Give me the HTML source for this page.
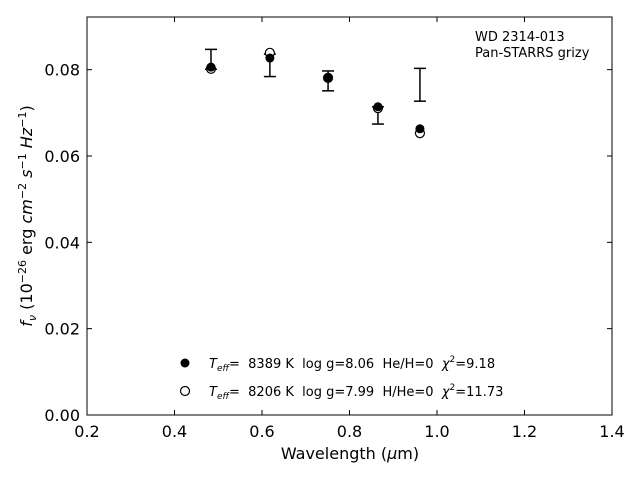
<!DOCTYPE html>
<html><head><meta charset="utf-8"><style>
body{margin:0;background:#fff}
svg{display:block;font-family:"DejaVu Sans","Liberation Sans",sans-serif}
</style></head><body>
<svg id="chart" width="640" height="480">
<rect x="87" y="17" width="525" height="398" fill="none" stroke="#000" stroke-width="1"/>
<g id="ticks"></g>
<g id="marks"></g>
<text x="350" y="459" font-size="16" text-anchor="middle">Wavelength (<tspan font-style="italic">μ</tspan>m)</text>
<text transform="translate(32,216) rotate(-90)" font-size="16" text-anchor="middle"><tspan font-style="italic">f<tspan font-size="11" dy="4">ν</tspan></tspan><tspan dy="-4"> (10</tspan><tspan font-size="11" dy="-6">−26</tspan><tspan dy="6"> erg </tspan><tspan font-style="italic">cm</tspan><tspan font-size="11" dy="-6">−2</tspan><tspan dy="6" font-style="italic"> s</tspan><tspan font-size="11" dy="-6">−1</tspan><tspan dy="6" font-style="italic"> Hz</tspan><tspan font-size="11" dy="-6">−1</tspan><tspan dy="6">)</tspan></text>
<text x="475" y="41" font-size="13">WD 2314-013</text>
<text x="475" y="57" font-size="13">Pan-STARRS grizy</text>
<g>
<circle cx="185" cy="363" r="4.5" fill="#000"/>
<text x="209" y="368" font-size="13" xml:space="preserve"><tspan font-style="italic">T</tspan><tspan font-style="italic" font-size="9" dy="3">eff</tspan><tspan dy="-3">=  8389 K  log g=8.06  He/H=0  </tspan><tspan font-style="italic">χ</tspan><tspan font-size="9" dy="-6">2</tspan><tspan dy="6">=9.18</tspan></text>
<circle cx="185" cy="391" r="4.5" fill="#fff" stroke="#000" stroke-width="1.2"/>
<text x="209" y="396" font-size="13" xml:space="preserve"><tspan font-style="italic">T</tspan><tspan font-style="italic" font-size="9" dy="3">eff</tspan><tspan dy="-3">=  8206 K  log g=7.99  H/He=0  </tspan><tspan font-style="italic">χ</tspan><tspan font-size="9" dy="-6">2</tspan><tspan dy="6">=11.73</tspan></text>
</g>
</svg>
<script>
const wavelengths=[0.4834,0.618,0.751,0.865,0.961];
const observed=[0.0824,0.0810,0.0774,0.0694,0.0765];
const observedErr=[0.0023,0.0026,0.0023,0.0020,0.0038];
const modelFilled=[0.0806,0.0827,0.0782,0.0714,0.0663];
const modelOpen=[0.0802,0.0839,0.0781,0.0711,0.0653];
const xTicks=[0.2,0.4,0.6,0.8,1.0,1.2,1.4];
const yTicks=[0.00,0.02,0.04,0.06,0.08];
const X0=87,X1=612,Y0=415,Y1=17,xMin=0.2,xMax=1.4,yMin=0,yMax=0.0922;
const sx=v=>X0+(v-xMin)/(xMax-xMin)*(X1-X0);
const sy=v=>Y0-(v-yMin)/(yMax-yMin)*(Y0-Y1);
const NS="http://www.w3.org/2000/svg";
function mk(parent,tag,attrs){const e=document.createElementNS(NS,tag);for(const k in attrs)e.setAttribute(k,attrs[k]);parent.appendChild(e);return e;}
const tg=document.getElementById('ticks');
xTicks.forEach(t=>{const x=sx(t);
 let l=mk(tg,'line',{x1:x,x2:x,y1:Y0,y2:Y0-5,stroke:'#000'});
 
 
 let l2=mk(tg,'line',{x1:x,x2:x,y1:Y1,y2:Y1+5,stroke:'#000'});
 
 
 let tx=mk(tg,'text',{x:x,y:Y0+22,'font-size':16,'text-anchor':'middle'});tx.textContent=t.toFixed(1);
 
 
});
yTicks.forEach(t=>{const y=sy(t);
 let l=mk(tg,'line',{x1:X0,x2:X0+5,y1:y,y2:y,stroke:'#000'});
 
 
 let l2=mk(tg,'line',{x1:X1,x2:X1-5,y1:y,y2:y,stroke:'#000'});
 
 
 let tx=mk(tg,'text',{x:X0-7,y:y+6,'font-size':16,'text-anchor':'end'});tx.textContent=t.toFixed(2);
 
 
});
const mg=document.getElementById('marks');
wavelengths.forEach((w,i)=>{const x=sx(w);
 const yt=sy(observed[i]+observedErr[i]),yb=sy(observed[i]-observedErr[i]);
 const g=mk(mg,'g',{stroke:'#000','stroke-width':1.5});
 
 
 mk(g,'line',{x1:x,x2:x,y1:yt,y2:yb});
 mk(g,'line',{x1:x-6,x2:x+6,y1:yt,y2:yt});
 mk(g,'line',{x1:x-6,x2:x+6,y1:yb,y2:yb});
});
wavelengths.forEach((w,i)=>{
 const c=mk(mg,'circle',{cx:sx(w),cy:sy(modelOpen[i]),r:4.5,fill:'#fff',stroke:'#000','stroke-width':1.2});
 
 
});
wavelengths.forEach((w,i)=>{
 const c=mk(mg,'circle',{cx:sx(w),cy:sy(modelFilled[i]),r:4.5,fill:'#000'});
 
 
});
</script>
</body></html>
